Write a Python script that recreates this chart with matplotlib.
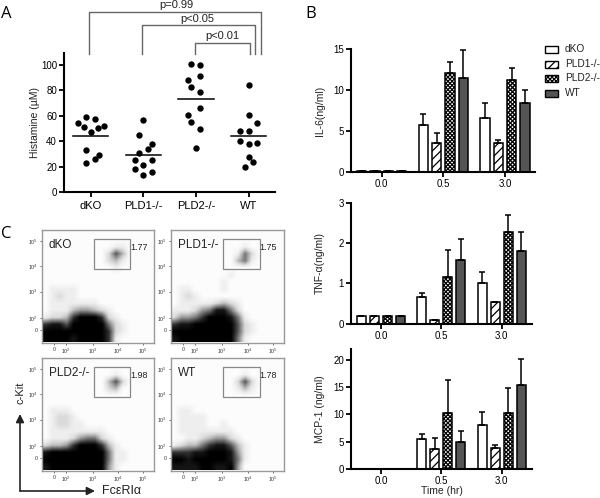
import numpy as np
import matplotlib
matplotlib.use("Agg")
import matplotlib.pyplot as plt
from matplotlib.colors import LinearSegmentedColormap
from matplotlib.patches import Rectangle

plt.rcParams["font.family"] = ["Liberation Sans", "DejaVu Sans"]
plt.rcParams["hatch.linewidth"] = 0.9
plt.rcParams["mathtext.default"] = "regular"

W, H = 600, 498

# panel A
groups_a = ["dKO", "PLD1-/-", "PLD2-/-", "WT"]
means_a = [44, 29.5, 73.5, 44]
dko_x = [-0.25, -0.08, 0.08, -0.13, 0, 0.13, 0.26, -0.08, 0.16, 0.08, -0.08]
dko_y = [54, 59, 57.5, 51, 47.5, 50.5, 52, 33, 29.5, 26, 22.5]
pld1_x = [1, 0.92, 1.16, 1.08, 0.92, 0.84, 1.16, 1, 0.84, 1.16, 1]
pld1_y = [56.5, 44.5, 38, 33.5, 30.5, 25, 25.5, 21, 18, 16, 13]
pld2_x = [1.91, 2.08, 2.08, 1.84, 1.91, 2.08, 2.08, 1.84, 1.91, 2.08, 2]
pld2_y = [101, 100, 91, 88, 83, 79, 66.5, 60.5, 55, 49.5, 35]
wt_x = [3, 3, 3.16, 2.84, 3, 2.84, 3, 3.16, 3, 3.08, 2.92]
wt_y = [84.5, 60.5, 54, 48, 48, 40, 37.5, 38.5, 27.5, 23.5, 19.5]

# panel B, one row per genotype, columns are 0.0 / 0.5 / 3.0 hr
times = ["0.0", "0.5", "3.0"]
il6 = [[0.15, 5.7, 6.6], [0.15, 3.5, 3.5], [0.15, 12.1, 11.2], [0.15, 11.5, 8.4]]
il6_err = [[0, 1.35, 1.8], [0, 1.3, 0.4], [0, 1.3, 1.5], [0, 3.4, 1.6]]
tnf = [[0.2, 0.65, 1.0], [0.2, 0.1, 0.55], [0.2, 1.15, 2.27], [0.2, 1.58, 1.8]]
tnf_err = [[0, 0.1, 0.28], [0, 0, 0], [0, 0.68, 0.42], [0, 0.53, 0.47]]
mcp = [[0, 5.5, 8.0], [0, 3.6, 3.8], [0, 10.3, 10.3], [0, 5.0, 15.3]]
mcp_err = [[0, 0.9, 2.4], [0, 2.0, 0.5], [0, 5.9, 4.5], [0, 2.0, 4.9]]

# panel C, dot density read by eye, 0 (empty) to 9 (solid black)
dko_density = [
    "0000000000000000", "0000000000000000", "0000000000110000", "0000000002630000",
    "0000000002310000", "0000000000100000", "0000000000000000", "0000000000000000",
    "0111100000000000", "0121100000000000", "0111111100000000", "0111344321000000",
    "1223799972100000", "7886999995210000", "9999999997210000", "9999899997100000",
]
pld1_density = [
    "0000000000000000", "0000000000000000", "0000000000100000", "0000000001520000",
    "0000000003510000", "0000000000000000", "0000000010000000", "0000000100000000",
    "0110000100000000", "0121000000000000", "0111112321000000", "1112458852000000",
    "2445799985100000", "7889999996210000", "9999999996210000", "8999999995100000",
]
pld2_density = [
    "0000000000000000", "0000000000000000", "0000000000100000", "0000000003620000",
    "0000000002300000", "0000000000000000", "0000000000000000", "0111000000000000",
    "0122100000000000", "0122110000000000", "0111111110000000", "0111245521000000",
    "2334799973100000", "8999999995110000", "9999999995110000", "8999999994100000",
]
wt_density = [
    "0000000000000000", "0000000000000000", "0000000000100000", "0000000002620000",
    "0000000001310000", "0000000000000000", "0000000000000000", "0110000000000000",
    "0111100000000000", "0111100100000000", "0111111110000000", "0011234421000000",
    "1233578863100000", "7778899984100000", "9989999985100000", "8888998894000000",
]
flow_names = ["dKO", "PLD1-/-", "PLD2-/-", "WT"]
flow_pcts = ["1.77", "1.75", "1.98", "1.78"]
flow_ticks = [12.5, 24.3, 51, 76.5, 101.7]
flow_ticklabels = ["0", "$10^2$", "$10^3$", "$10^4$", "$10^5$"]

fig = plt.figure(figsize=(W / 100, H / 100), dpi=100)


def px_axes(left, right, top, bottom):
    return fig.add_axes([left / W, 1 - bottom / H, (right - left) / W, (bottom - top) / H])


# overlay in pixel coords for brackets, letters and the legend
ov = fig.add_axes([0, 0, 1, 1], zorder=5)
ov.set_xlim(0, W)
ov.set_ylim(H, 0)
ov.axis("off")
ov.patch.set_alpha(0)

for s, xy in [("A", (1, 14)), ("B", (305, 14)), ("C", (1, 234))]:
    ov.text(xy[0], xy[1], s, fontsize=12, family="Open Sans", va="center")

# ---- A ----
ax = px_axes(64, 275, 53, 192)
ax.set_xlim((64 - 90.7) / 52.7, (275 - 90.7) / 52.7)
ax.set_ylim(0, 109.4)
for xs, ys in [(dko_x, dko_y), (pld1_x, pld1_y), (pld2_x, pld2_y), (wt_x, wt_y)]:
    ax.scatter(xs, ys, s=21, c="black", linewidths=0, clip_on=False)
for i, m in enumerate(means_a):
    ax.plot([i - 0.335, i + 0.335], [m, m], color="black", lw=1.1)
ax.set_xticks(range(4))
ax.set_xticklabels(groups_a, fontsize=8)
ax.set_yticks([0, 20, 40, 60, 80, 100])
ax.tick_params(labelsize=7, width=1.3, length=3.5, pad=1.5)
ax.tick_params(axis="x", labelsize=8, pad=3)
ax.set_ylabel("Histamine (µM)", fontsize=7.5, color="#222222")
ax.yaxis.set_label_coords(-24 / 211, 0.5)
for side in ["top", "right"]:
    ax.spines[side].set_visible(False)
for side in ["left", "bottom"]:
    ax.spines[side].set_linewidth(1.5)

for x0, x1, top, label, lx, ly in [
    (89, 261, 12, "p=0.99", 176, 5),
    (142, 255, 25, "p<0.05", 197, 19),
    (195, 250, 43, "p<0.01", 222, 36),
]:
    ov.plot([x0, x0, x1, x1], [54, top, top, 54], color="#666666", lw=1)
    ov.text(lx, ly, label, fontsize=8, ha="center", va="center", color="#222222")

# ---- B ----
styles = [
    dict(facecolor="white", hatch=None),
    dict(facecolor="white", hatch="////"),
    dict(facecolor="white", hatch="xxxxxxxx"),
    dict(facecolor="#555555", hatch=None),
]
offsets = [-0.324, -0.108, 0.108, 0.324]


def bar_panel(rect, first, step, ymax, yticks, vals, errs, ylabel):
    ax = px_axes(*rect)
    ax.set_xlim((rect[0] - first) / step, (rect[1] - first) / step)
    ax.set_ylim(0, ymax)
    for i in range(4):
        x = np.arange(3) + offsets[i]
        h = np.array(vals[i])
        keep = h > 0
        ax.bar(x[keep], h[keep], width=0.15, edgecolor="black", linewidth=1.1, **styles[i])
        ax.errorbar(x[keep], h[keep], yerr=[np.zeros(keep.sum()), np.array(errs[i])[keep]],
                    fmt="none", ecolor="black", elinewidth=1.1, capsize=2, capthick=1.1)
    ax.set_xticks(range(3))
    ax.set_xticklabels(times)
    ax.set_yticks(yticks)
    ax.tick_params(labelsize=7, width=1.3, length=3.5, pad=1.5)
    ax.set_ylabel(ylabel, fontsize=7.5, color="#222222")
    ax.yaxis.set_label_coords(-26 / (rect[1] - rect[0]), 0.5)
    for side in ["top", "right"]:
        ax.spines[side].set_visible(False)
    for side in ["left", "bottom"]:
        ax.spines[side].set_linewidth(1.5)
    return ax


bar_panel((351, 535, 49, 172), 381.7, 61.7, 15, [0, 5, 10, 15], il6, il6_err, "IL-6(ng/ml)")
bar_panel((351, 532, 202.7, 323.7), 381, 60.3, 3, [0, 1, 2, 3], tnf, tnf_err, "TNF-α(ng/ml)")
bar_panel((351, 532, 348.7, 469), 381, 60.3, 22, [0, 5, 10, 15, 20], mcp, mcp_err, "MCP-1 (ng/ml)")
ov.text(441.7, 490.5, "Time (hr)", fontsize=7.5, ha="center", va="center", color="#222222")

for i, name in enumerate(groups_a):
    y = [49, 64, 78, 93][i]
    ov.add_patch(Rectangle((545, y - 3.5), 13, 7, edgecolor="black", linewidth=1, **styles[i]))
    ov.text(565, y, name, fontsize=7.3, va="center", color="#222222")

# ---- C ----
dot_cmap = LinearSegmentedColormap.from_list(
    "dots", ["#fcfcfc", "#eeeeee", "#dadada", "#bbbbbb", "#999999",
             "#777777", "#555555", "#333333", "#151515", "#000000"])
panels = [
    (41.7, 230, dko_density), (171, 230, pld1_density),
    (41.7, 358, pld2_density), (171, 358, wt_density),
]
for i, (left, top, density) in enumerate(panels):
    ax = px_axes(left, left + 112.5, top, top + 112.5)
    grid = np.array([[int(c) for c in row] for row in density], dtype=float)
    ax.imshow(grid, cmap=dot_cmap, vmin=0, vmax=9, extent=(0, 112.5, 0, 112.5),
              interpolation="bilinear", aspect="auto")
    ax.set_xticks(flow_ticks)
    ax.set_xticklabels(flow_ticklabels)
    ax.set_yticks(flow_ticks)
    ax.set_yticklabels(flow_ticklabels)
    ax.tick_params(labelsize=3.8, length=1.5, width=0.5, pad=1.5, colors="#333333")
    for spine in ax.spines.values():
        spine.set_color("#999999")
        spine.set_linewidth(1)
    ax.add_patch(Rectangle((52, 73.5), 36.7, 29.5, fill=False, edgecolor="#888888", linewidth=0.9))
    ax.text(7, 98, flow_names[i], fontsize=8.5, va="center", color="#222222")
    ax.text(88.5, 95.5, flow_pcts[i], fontsize=6.5, va="center", color="#222222")

ov.text(21, 393, "c-Kit", fontsize=8, rotation=90, ha="center", va="center", color="#222222")
ov.text(102, 491, "FcεRIα", fontsize=9, va="center", color="#222222")
for end in [(20, 414), (95, 491)]:
    ov.annotate("", xy=end, xytext=(20, 491), xycoords="data",
                arrowprops=dict(arrowstyle="-|>", color="#222222", lw=1.2, mutation_scale=12,
                                shrinkA=0, shrinkB=0))

fig.savefig("out.png", dpi=100)
